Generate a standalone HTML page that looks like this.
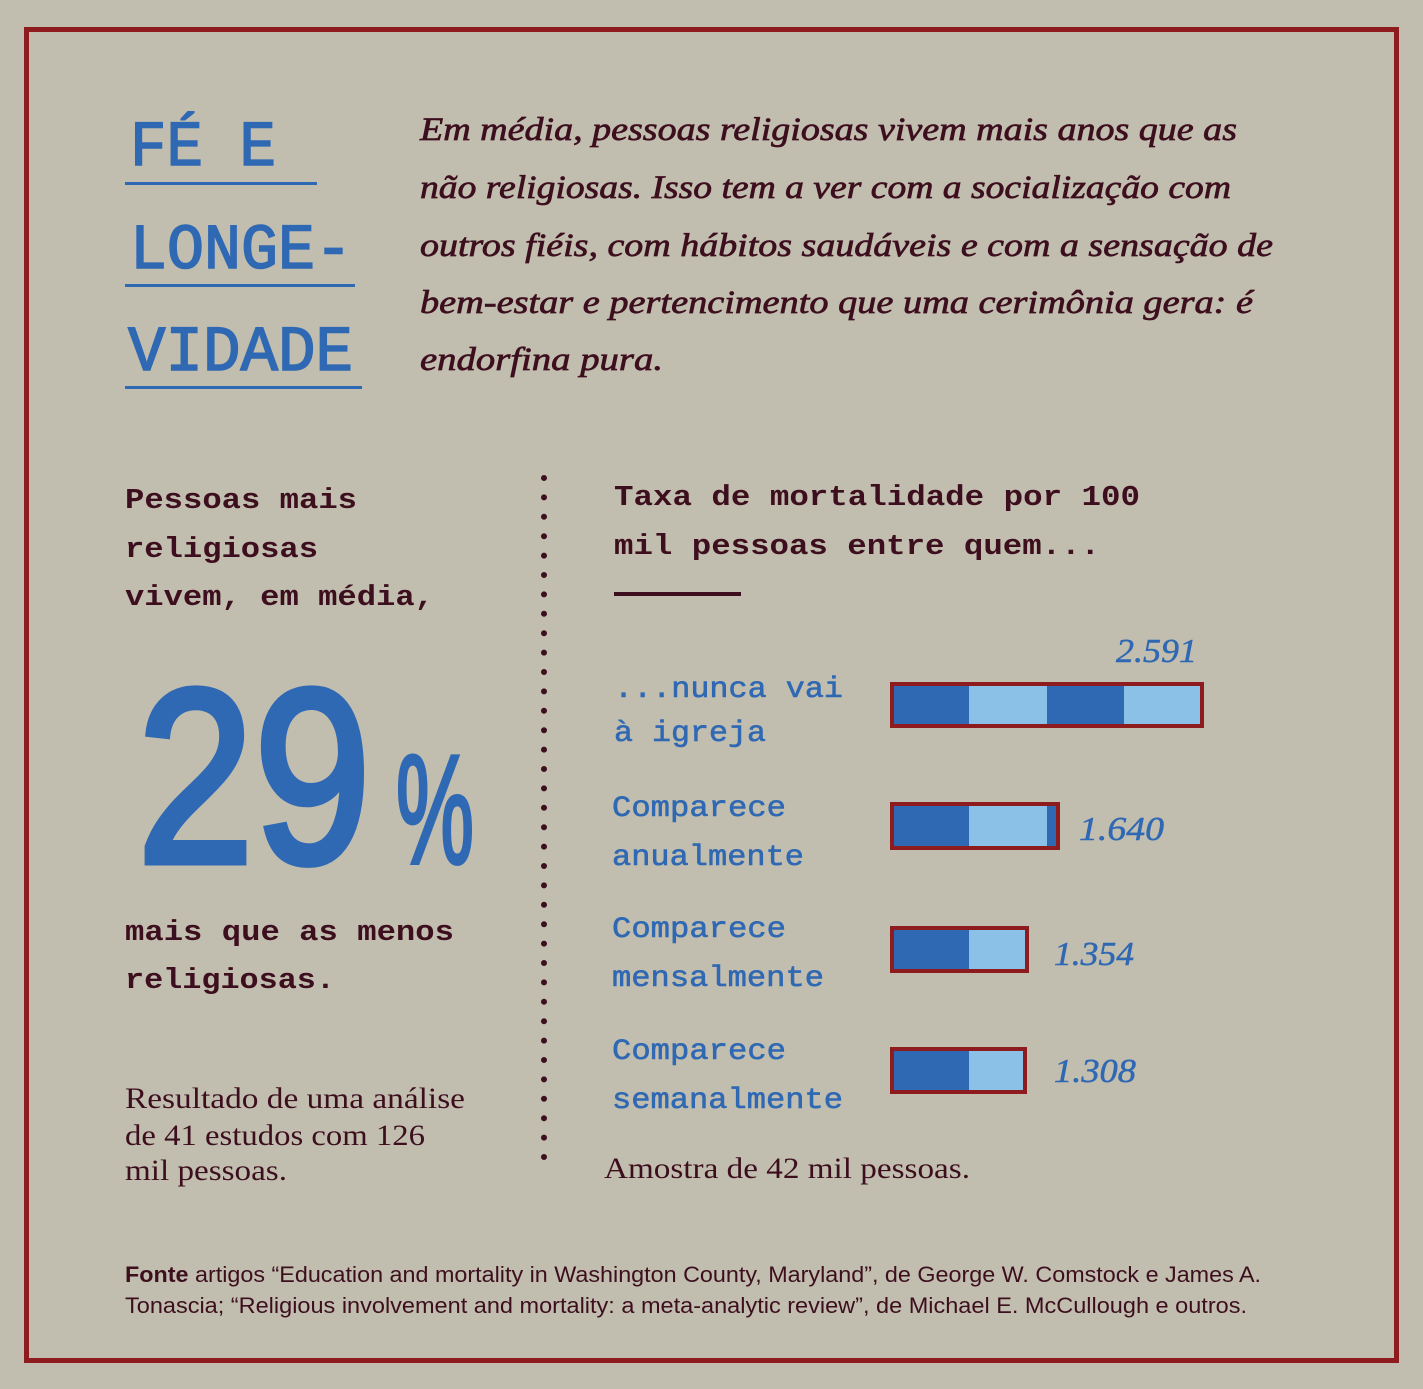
<!DOCTYPE html>
<html><head><meta charset="utf-8"><style>
html,body{margin:0;padding:0;background:#c1bdaf;}
svg{display:block;}
.mono{font-family:"Liberation Mono",monospace;}
.serif{font-family:"Liberation Serif",serif;}
.sans{font-family:"Liberation Sans",sans-serif;}
</style></head><body>
<svg width="1423" height="1389" viewBox="0 0 1423 1389" xmlns="http://www.w3.org/2000/svg">
<rect x="0" y="0" width="1423" height="1389" fill="#c1bdaf"/>
<rect x="26.5" y="29.5" width="1370" height="1331" fill="none" stroke="#8e1b1e" stroke-width="5"/>

<!-- Title -->
<g class="mono" fill="#2f68b3" stroke="#2f68b3" stroke-width="1.6" font-size="64">
<text x="130" y="165" textLength="146" lengthAdjust="spacingAndGlyphs">FÉ E</text>
<text x="130" y="268" textLength="222" lengthAdjust="spacingAndGlyphs">LONGE-</text>
<text x="128" y="370" textLength="225" lengthAdjust="spacingAndGlyphs">VIDADE</text>
</g>
<rect x="125" y="182" width="192" height="3" fill="#2f68b3"/>
<rect x="125" y="284" width="230" height="3" fill="#2f68b3"/>
<rect x="125" y="386" width="237" height="3" fill="#2f68b3"/>

<!-- Paragraph -->
<g class="serif" font-style="italic" fill="#3d0f1e" stroke="#3d0f1e" stroke-width="0.7" font-size="33">
<text x="420" y="140" textLength="817" lengthAdjust="spacingAndGlyphs">Em média, pessoas religiosas vivem mais anos que as</text>
<text x="420" y="198" textLength="811" lengthAdjust="spacingAndGlyphs">não religiosas. Isso tem a ver com a socialização com</text>
<text x="420" y="256" textLength="853" lengthAdjust="spacingAndGlyphs">outros fiéis, com hábitos saudáveis e com a sensação de</text>
<text x="420" y="313" textLength="833" lengthAdjust="spacingAndGlyphs">bem-estar e pertencimento que uma cerimônia gera: é</text>
<text x="420" y="370" textLength="243" lengthAdjust="spacingAndGlyphs">endorfina pura.</text>
</g>

<!-- Left column -->
<g class="mono" font-weight="bold" fill="#3d0f1e" font-size="29">
<text x="125" y="508" textLength="232" lengthAdjust="spacingAndGlyphs">Pessoas mais</text>
<text x="125" y="557" textLength="193" lengthAdjust="spacingAndGlyphs">religiosas</text>
<text x="125" y="605" textLength="309" lengthAdjust="spacingAndGlyphs">vivem, em média,</text>
<text x="125" y="940" textLength="329" lengthAdjust="spacingAndGlyphs">mais que as menos</text>
<text x="125" y="988" textLength="210" lengthAdjust="spacingAndGlyphs">religiosas.</text>
</g>
<g class="sans" fill="#2f68b3" stroke="#2f68b3">
<text x="137" y="862" font-size="248" stroke-width="7" textLength="234" lengthAdjust="spacingAndGlyphs">29</text>
<text x="396" y="863" font-size="155" stroke-width="4" textLength="78" lengthAdjust="spacingAndGlyphs">%</text>
</g>
<g class="serif" fill="#3d0f1e" font-size="30">
<text x="125" y="1108" textLength="340" lengthAdjust="spacingAndGlyphs">Resultado de uma análise</text>
<text x="125" y="1145" textLength="300" lengthAdjust="spacingAndGlyphs">de 41 estudos com 126</text>
<text x="125" y="1180" textLength="162" lengthAdjust="spacingAndGlyphs">mil pessoas.</text>
</g>

<!-- Dotted divider -->
<line x1="544" y1="478" x2="544" y2="1176" stroke="#3d0f1e" stroke-width="6" stroke-linecap="round" stroke-dasharray="0 19.4"/>

<!-- Right column -->
<g class="mono" font-weight="bold" fill="#3d0f1e" font-size="29">
<text x="614" y="505" textLength="526" lengthAdjust="spacingAndGlyphs">Taxa de mortalidade por 100</text>
<text x="614" y="554" textLength="486" lengthAdjust="spacingAndGlyphs">mil pessoas entre quem...</text>
</g>
<rect x="614" y="592" width="127" height="4" fill="#3d0f1e"/>

<g class="mono" fill="#2f68b3" stroke="#2f68b3" stroke-width="0.6" font-size="30">
<text x="614" y="697" textLength="229" lengthAdjust="spacingAndGlyphs">...nunca vai</text>
<text x="614" y="741" textLength="152" lengthAdjust="spacingAndGlyphs">à igreja</text>
<text x="612" y="816" textLength="174" lengthAdjust="spacingAndGlyphs">Comparece</text>
<text x="612" y="865" textLength="192" lengthAdjust="spacingAndGlyphs">anualmente</text>
<text x="612" y="937" textLength="174" lengthAdjust="spacingAndGlyphs">Comparece</text>
<text x="612" y="986" textLength="212" lengthAdjust="spacingAndGlyphs">mensalmente</text>
<text x="612" y="1059" textLength="174" lengthAdjust="spacingAndGlyphs">Comparece</text>
<text x="612" y="1108" textLength="231" lengthAdjust="spacingAndGlyphs">semanalmente</text>
</g>

<!-- Bars -->
<g>
<rect x="892" y="684" width="310" height="42" fill="#8bc1e6"/>
<rect x="892" y="684" width="77" height="42" fill="#2f68b3"/>
<rect x="1047" y="684" width="77" height="42" fill="#2f68b3"/>
<rect x="892" y="684" width="310" height="42" fill="none" stroke="#8e1b1e" stroke-width="4"/>

<rect x="892" y="804" width="166" height="44" fill="#8bc1e6"/>
<rect x="892" y="804" width="77" height="44" fill="#2f68b3"/>
<rect x="1047" y="804" width="11" height="44" fill="#2f68b3"/>
<rect x="892" y="804" width="166" height="44" fill="none" stroke="#8e1b1e" stroke-width="4"/>

<rect x="892" y="928" width="135" height="43" fill="#8bc1e6"/>
<rect x="892" y="928" width="77" height="43" fill="#2f68b3"/>
<rect x="892" y="928" width="135" height="43" fill="none" stroke="#8e1b1e" stroke-width="4"/>

<rect x="892" y="1049" width="133" height="43" fill="#8bc1e6"/>
<rect x="892" y="1049" width="77" height="43" fill="#2f68b3"/>
<rect x="892" y="1049" width="133" height="43" fill="none" stroke="#8e1b1e" stroke-width="4"/>
</g>

<g class="serif" font-style="italic" fill="#2f68b3" stroke="#2f68b3" stroke-width="0.5" font-size="34">
<text x="1116" y="662" textLength="81" lengthAdjust="spacingAndGlyphs">2.591</text>
<text x="1079" y="840" textLength="85" lengthAdjust="spacingAndGlyphs">1.640</text>
<text x="1054" y="965" textLength="80" lengthAdjust="spacingAndGlyphs">1.354</text>
<text x="1054" y="1082" textLength="82" lengthAdjust="spacingAndGlyphs">1.308</text>
</g>

<text class="serif" x="604" y="1178" font-size="30" fill="#3d0f1e" textLength="366" lengthAdjust="spacingAndGlyphs">Amostra de 42 mil pessoas.</text>

<!-- Footer -->
<g class="sans" fill="#3d0f1e" font-size="22">
<text x="125" y="1282" textLength="1136" lengthAdjust="spacingAndGlyphs"><tspan font-weight="bold">Fonte</tspan> artigos “Education and mortality in Washington County, Maryland”, de George W. Comstock e James A.</text>
<text x="125" y="1313" textLength="1122" lengthAdjust="spacingAndGlyphs">Tonascia; “Religious involvement and mortality: a meta-analytic review”, de Michael E. McCullough e outros.</text>
</g>
</svg>
</body></html>
